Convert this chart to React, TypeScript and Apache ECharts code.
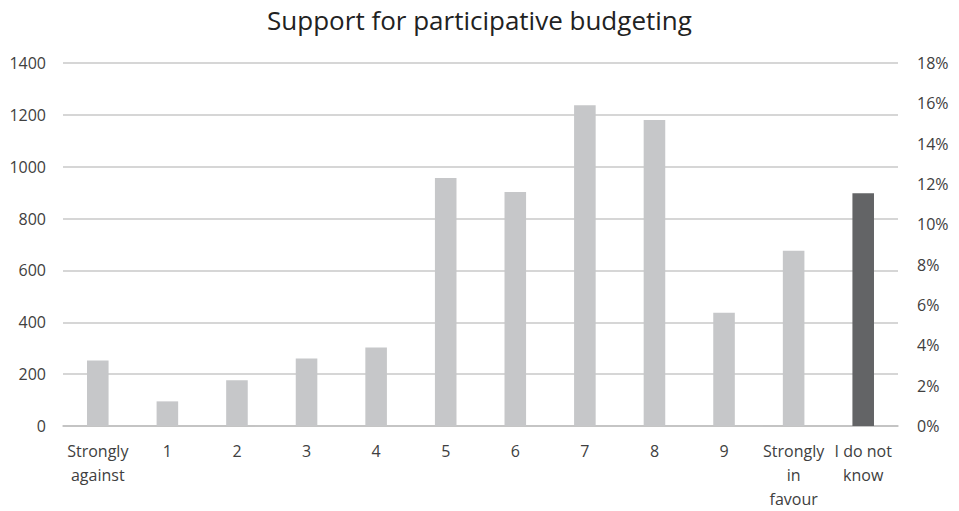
import React, { useEffect, useRef } from "react";
import * as echarts from "echarts";

const categories = [
  "Strongly\nagainst",
  "1",
  "2",
  "3",
  "4",
  "5",
  "6",
  "7",
  "8",
  "9",
  "Strongly\nin\nfavour",
  "I do not\nknow",
];
const counts = [253, 95, 176, 260, 303, 956, 902, 1237, 1180, 437, 676, 898];
const barColors = [
  "#C6C7C9", "#C6C7C9", "#C6C7C9", "#C6C7C9", "#C6C7C9", "#C6C7C9",
  "#C6C7C9", "#C6C7C9", "#C6C7C9", "#C6C7C9", "#C6C7C9", "#636466",
];
const countTicks = { min: 0, max: 1400, interval: 200 };
const shareTicks = { min: 0, max: 18, interval: 2 };

const FONT = "'Open Sans', 'Noto Sans', sans-serif";
const TEXT = "#404040";

export default function App() {
  const ref = useRef<HTMLDivElement>(null);

  useEffect(() => {
    if (!ref.current) return;
    const chart = echarts.init(ref.current, null, { renderer: "svg" });
    chart.setOption({
      animation: false,
      backgroundColor: "#ffffff",
      title: {
        text: "Support for participative budgeting",
        left: "center",
        top: 2,
        textStyle: { fontFamily: FONT, fontSize: 26, fontWeight: "normal", color: "#222222" },
      },
      grid: { left: 63, right: 61, top: 63, bottom: 84 },
      xAxis: {
        type: "category",
        data: categories,
        axisTick: { show: false },
        axisLine: { lineStyle: { color: "#BFBFBF", width: 1.5 } },
        axisLabel: {
          interval: 0,
          fontFamily: FONT,
          fontSize: 16,
          color: TEXT,
          lineHeight: 24,
          margin: 13,
        },
      },
      yAxis: [
        {
          type: "value",
          ...countTicks,
          axisLine: { show: false },
          axisTick: { show: false },
          splitLine: { lineStyle: { color: "#C8C8C8", width: 1.5 } },
          axisLabel: {
            fontFamily: FONT,
            fontSize: 16,
            color: TEXT,
            margin: 17,
            formatter: (v: number) => String(v),
          },
        },
        {
          type: "value",
          ...shareTicks,
          position: "right",
          axisLine: { show: false },
          axisTick: { show: false },
          splitLine: { show: false },
          axisLabel: {
            fontFamily: FONT,
            fontSize: 16,
            color: TEXT,
            margin: 19,
            formatter: (v: number) => `${v}%`,
          },
        },
      ],
      series: [
        {
          type: "bar",
          yAxisIndex: 0,
          barWidth: "31%",
          data: counts.map((v, i) => ({ value: v, itemStyle: { color: barColors[i] } })),
        },
      ],
    });
    return () => chart.dispose();
  }, []);

  return (
    <div
      ref={ref}
      style={{ position: "absolute", left: 0, top: 0, width: 959, height: 511 }}
    />
  );
}
